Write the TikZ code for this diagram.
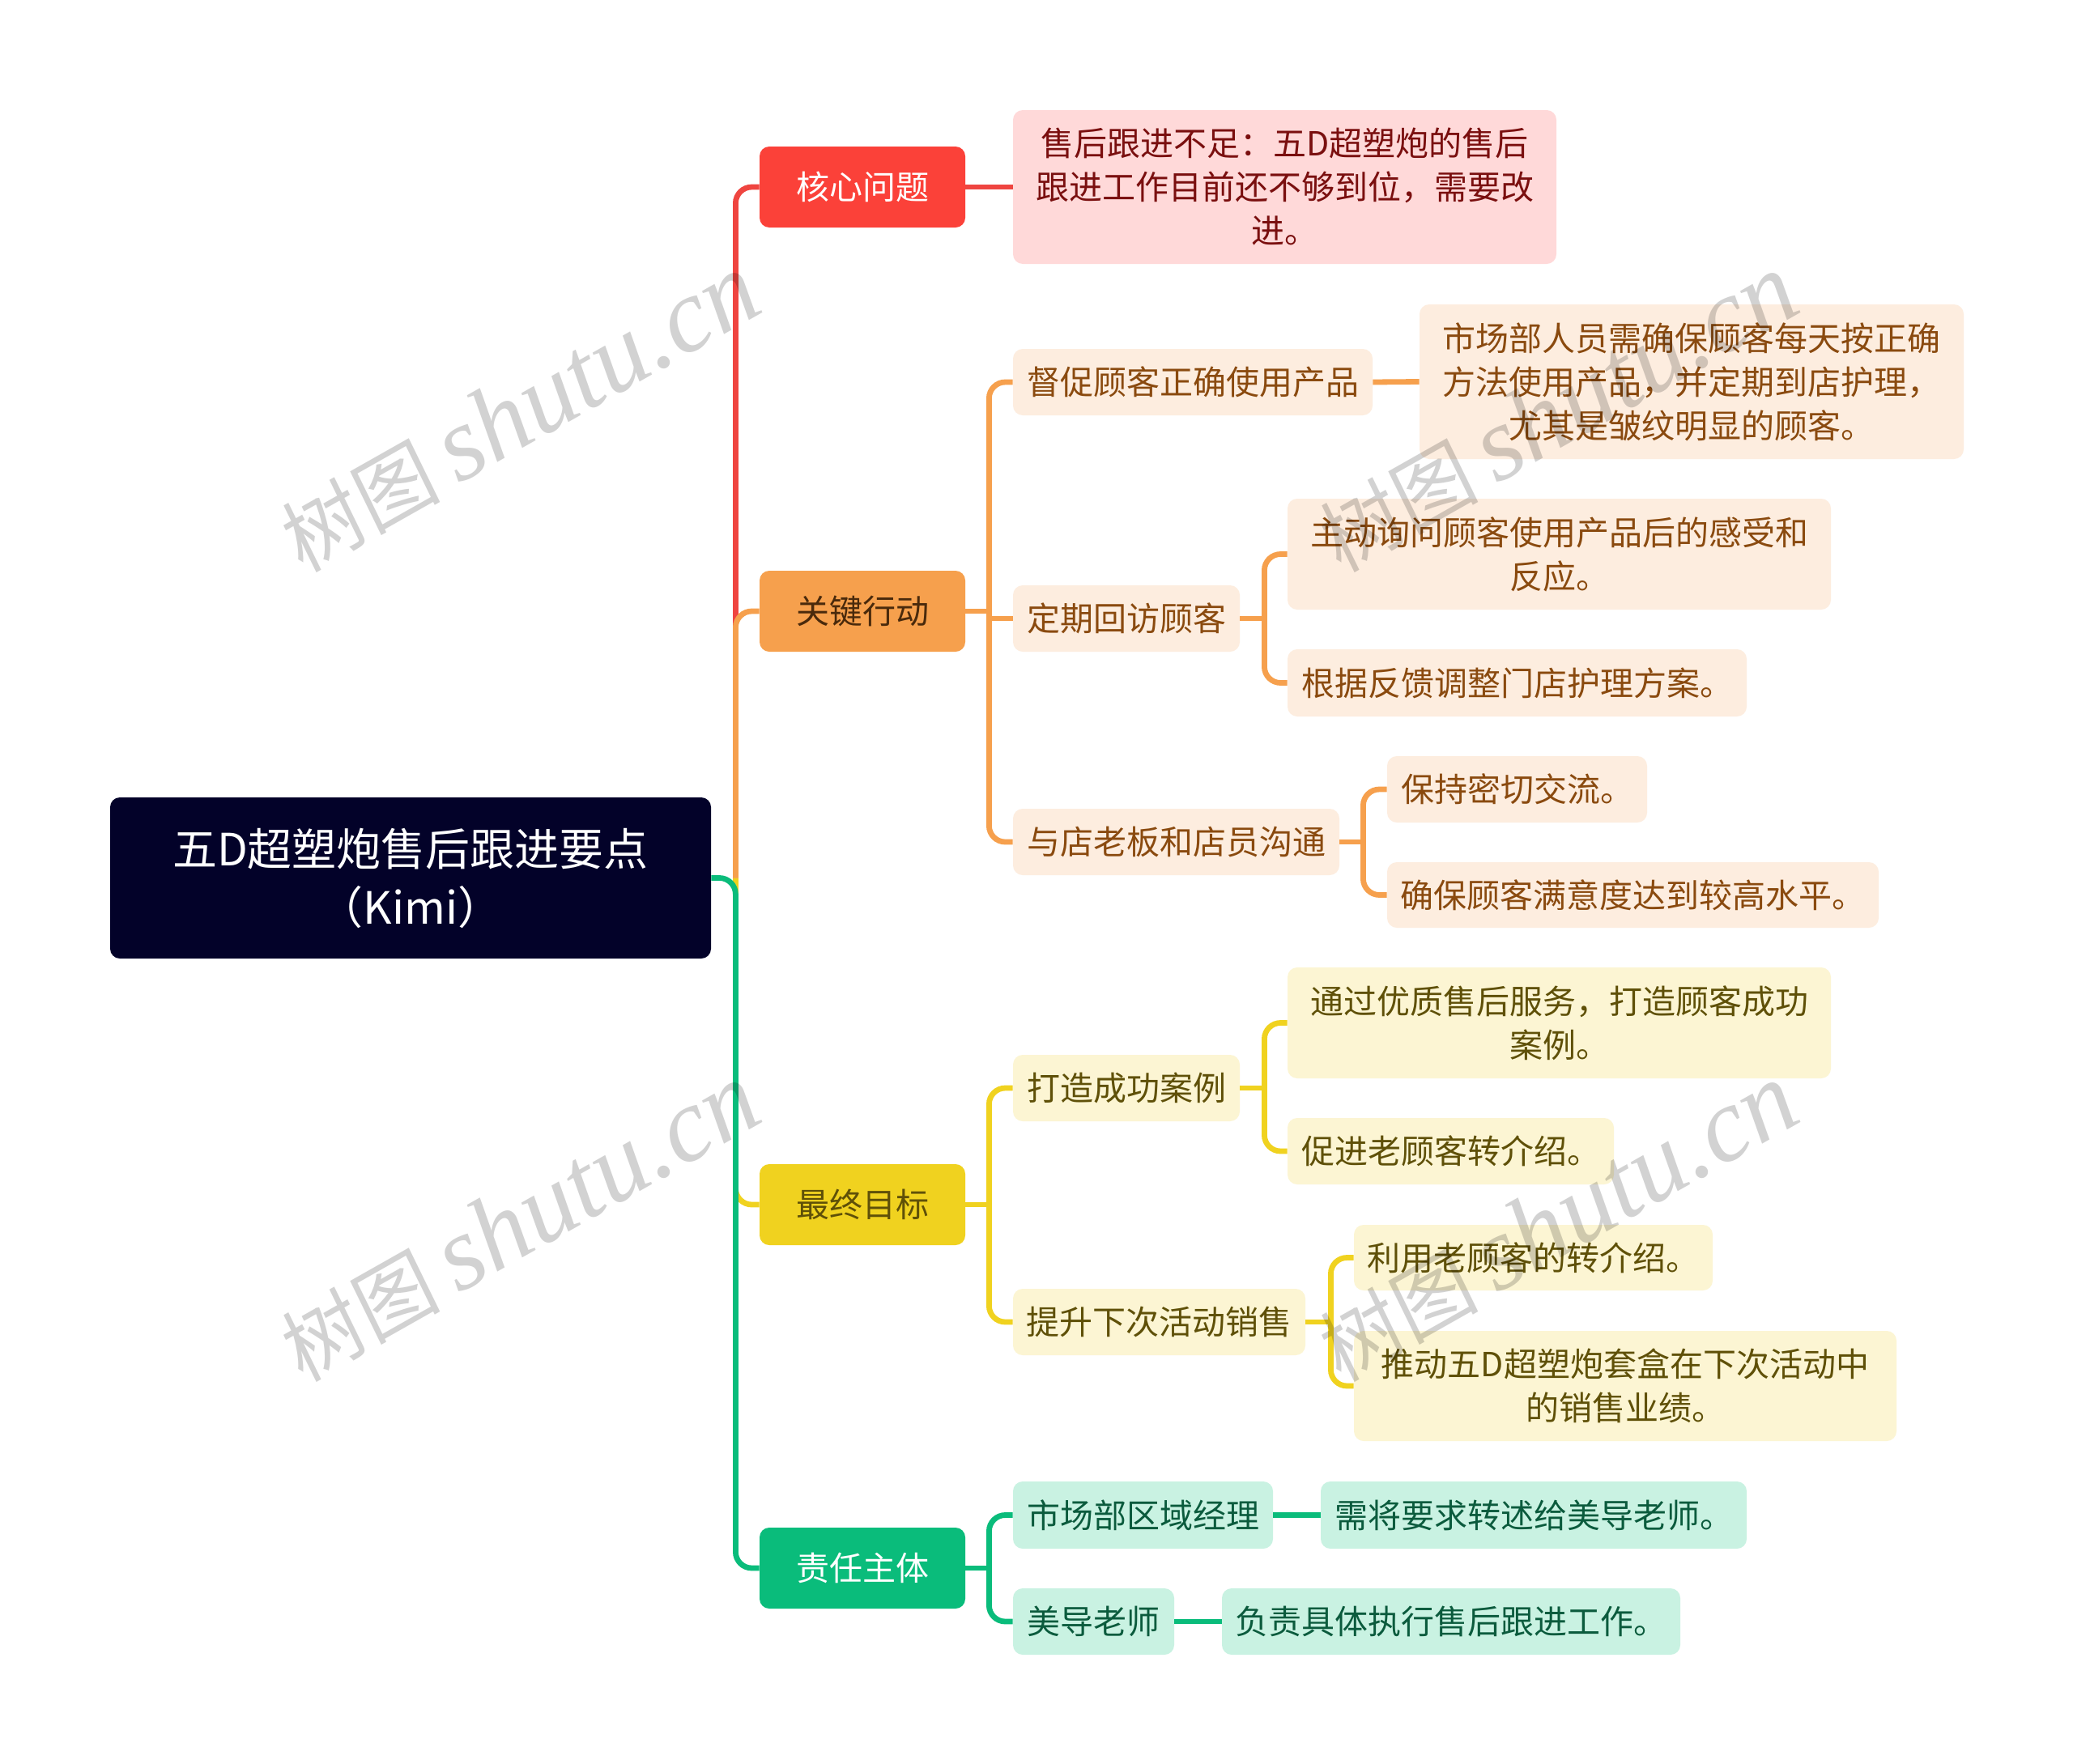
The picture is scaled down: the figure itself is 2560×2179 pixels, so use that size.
\documentclass[tikz,border=0pt]{standalone}
\usepackage{fontspec}
\setmainfont{Noto Sans CJK SC}
\newfontfamily\wmcjk[FakeSlant=0.06]{Noto Sans CJK SC}
\newfontfamily\wmlat{Liberation Serif Italic}
\definecolor{rootfill}{HTML}{030229}
\definecolor{redA}{HTML}{FB4139}\definecolor{redL}{HTML}{EF4540}\definecolor{redB}{HTML}{FFD9D9}\definecolor{redT}{HTML}{7A0F0F}
\definecolor{orgA}{HTML}{F6A04D}\definecolor{orgB}{HTML}{FDEDDF}\definecolor{orgT}{HTML}{8A4A0F}\definecolor{orgD}{HTML}{4A2A0C}
\definecolor{yelA}{HTML}{F0D21F}\definecolor{yelB}{HTML}{FCF5D3}\definecolor{yelT}{HTML}{5F5008}
\definecolor{grnA}{HTML}{0ABC7B}\definecolor{grnB}{HTML}{C9F2E2}\definecolor{grnT}{HTML}{0B5B3D}
\tikzset{
  basebox/.style={rounded corners=6pt,inner sep=0pt,align=center,font=\fontsize{20.5}{27}\selectfont},
  rootbox/.style={basebox,fill=rootfill,text=white,font=\fontsize{27.5}{36}\selectfont},
  redtop/.style={basebox,fill=redA,text=white},
  redleaf/.style={basebox,fill=redB,text=redT},
  orgtop/.style={basebox,fill=orgA,text=orgD},
  orgleaf/.style={basebox,fill=orgB,text=orgT},
  yeltop/.style={basebox,fill=yelA,text=yelT},
  yelleaf/.style={basebox,fill=yelB,text=yelT},
  grntop/.style={basebox,fill=grnA,text=white},
  grnleaf/.style={basebox,fill=grnB,text=grnT},
  link/.style={line width=3.4pt,rounded corners=10pt},
  watermark/.style={rotate=29.5,inner sep=0pt,text=black,text opacity=0.175}
}
\newcommand{\bx}[7]{\node[#1,minimum width={(#5-#3)*0.5pt},minimum height={(#6-#4)*0.5pt}] (#2) at ({(#3+#5)/2},{(#4+#6)/2}) {#7};}
\newcommand{\wm}[3]{\node[watermark] (#1) at (#2,#3) {{\fontsize{50}{60}\selectfont\wmcjk 树图}\hspace{11pt}{\fontsize{65}{70}\selectfont\wmlat shutu.cn}};}
\begin{document}
\begin{tikzpicture}[x=0.5pt,y=-0.5pt]
\useasboundingbox (0,0) rectangle (2560,2179);
\fill[white] (0,0) rectangle (2560,2179);
\bx{rootbox}{root}{136}{985}{878}{1184}{五D超塑炮售后跟进要点\\（Kimi）}
\bx{redtop}{a}{938}{181}{1192}{281}{核心问题}
\bx{redleaf}{a1}{1251}{136}{1922}{326}{售后跟进不足：五D超塑炮的售后\\跟进工作目前还不够到位，需要改\\进。}
\bx{orgtop}{b}{938}{705}{1192}{805}{关键行动}
\bx{orgleaf}{b1}{1251}{431}{1695}{513}{督促顾客正确使用产品}
\bx{orgleaf}{b1a}{1753}{376}{2425}{567}{市场部人员需确保顾客每天按正确\\方法使用产品，并定期到店护理，\\尤其是皱纹明显的顾客。}
\bx{orgleaf}{b2}{1251}{723}{1531}{805}{定期回访顾客}
\bx{orgleaf}{b2a}{1590}{616}{2261}{753}{主动询问顾客使用产品后的感受和\\反应。}
\bx{orgleaf}{b2b}{1590}{802}{2157}{885}{根据反馈调整门店护理方案。}
\bx{orgleaf}{b3}{1251}{999}{1654}{1081}{与店老板和店员沟通}
\bx{orgleaf}{b3a}{1713}{934}{2034}{1016}{保持密切交流。}
\bx{orgleaf}{b3b}{1713}{1065}{2320}{1146}{确保顾客满意度达到较高水平。}
\bx{yeltop}{c}{938}{1438}{1192}{1538}{最终目标}
\bx{yelleaf}{c1}{1251}{1303}{1531}{1385}{打造成功案例}
\bx{yelleaf}{c1a}{1590}{1195}{2261}{1332}{通过优质售后服务，打造顾客成功\\案例。}
\bx{yelleaf}{c1b}{1590}{1381}{1993}{1463}{促进老顾客转介绍。}
\bx{yelleaf}{c2}{1251}{1592}{1612}{1674}{提升下次活动销售}
\bx{yelleaf}{c2a}{1672}{1513}{2115}{1594}{利用老顾客的转介绍。}
\bx{yelleaf}{c2b}{1672}{1644}{2342}{1780}{推动五D超塑炮套盒在下次活动中\\的销售业绩。}
\bx{grntop}{d}{938}{1887}{1192}{1987}{责任主体}
\bx{grnleaf}{d1}{1251}{1830}{1572}{1913}{市场部区域经理}
\bx{grnleaf}{d1a}{1631}{1830}{2157}{1913}{需将要求转述给美导老师。}
\bx{grnleaf}{d2}{1251}{1962}{1450}{2044}{美导老师}
\bx{grnleaf}{d2a}{1509}{1962}{2075}{2044}{负责具体执行售后跟进工作。}
% junction points
\coordinate (rh) at ([xshift=15pt]root.east);
\coordinate (bh) at ([xshift=14.5pt]b.east);
\coordinate (b2h) at ([xshift=15pt]b2.east);
\coordinate (b3h) at ([xshift=14.5pt]b3.east);
\coordinate (ch) at ([xshift=14.5pt]c.east);
\coordinate (c1h) at ([xshift=15pt]c1.east);
\coordinate (c2h) at ([xshift=15.5pt]c2.east);
\coordinate (dh) at ([xshift=14.5pt]d.east);
% connectors
\draw[link,redL] (rh) |- (a.west);
\draw[link,redL] (a.east) -- (a1.west);
\draw[link,orgA] (rh) |- (b.west);
\draw[link,orgA] (b.east) -- (bh);
\draw[link,orgA] (b1.west) -| (bh |- b2.west) |- (b3.west);
\draw[link,orgA] (bh |- b2.west) -- (b2.west);
\draw[link,orgA] (b1.east) -- (b1a.west);
\draw[link,orgA] (b2.east) -- (b2h);
\draw[link,orgA] (b2a.west) -| (b2h) |- (b2b.west);
\draw[link,orgA] (b3.east) -- (b3h);
\draw[link,orgA] (b3a.west) -| (b3h) |- (b3b.west);
\draw[link,yelA] (rh) |- (c.west);
\draw[link,yelA] (c.east) -- (ch);
\draw[link,yelA] (c1.west) -| (ch) |- (c2.west);
\draw[link,yelA] (c1.east) -- (c1h);
\draw[link,yelA] (c1a.west) -| (c1h) |- (c1b.west);
\draw[link,yelA] (c2.east) -- (c2h);
\draw[link,yelA] (c2a.west) -| (c2h) |- (c2b.west);
\draw[link,grnA] (root.east) -- (rh) |- (d.west);
\draw[link,grnA] (d.east) -- (dh);
\draw[link,grnA] (d1.west) -| (dh) |- (d2.west);
\draw[link,grnA] (d1.east) -- (d1a.west);
\draw[link,grnA] (d2.east) -- (d2a.west);
% watermarks
\wm{w1}{640}{510}
\wm{w2}{1922}{510}
\wm{w3}{640}{1510}
\wm{w4}{1922}{1510}
\end{tikzpicture}
\end{document}
